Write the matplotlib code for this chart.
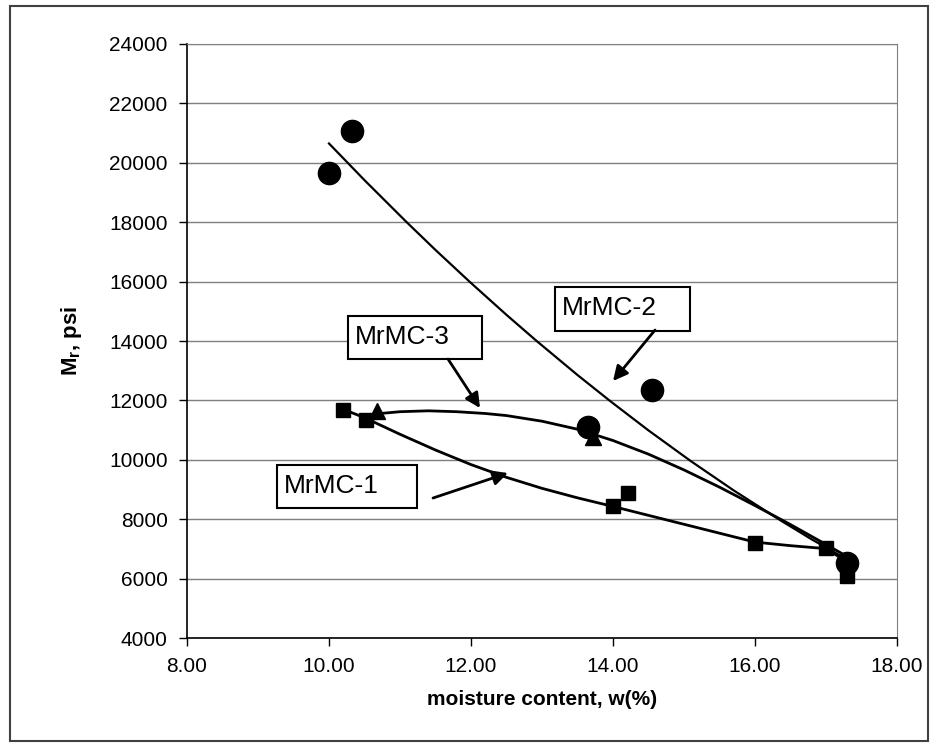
import matplotlib
matplotlib.use('Agg')
import matplotlib.pyplot as plt
from matplotlib.patches import Rectangle

plt.rcParams['font.family'] = ['Liberation Sans', 'DejaVu Sans']
plt.rcParams['mathtext.fontset'] = 'custom'
plt.rcParams['mathtext.rm'] = 'Liberation Sans'
plt.rcParams['mathtext.bf'] = 'Liberation Sans:bold'

# measured points (moisture %, Mr psi)
circle_x = [10.0, 10.33, 13.65, 14.55, 17.3]
circle_y = [19650, 21070, 11100, 12350, 6520]
square_x = [10.2, 10.52, 14.0, 14.21, 16.0, 17.0, 17.3]
square_y = [11680, 11340, 8450, 8890, 7210, 7020, 6100]
triangle_x = [10.68, 13.72]
triangle_y = [11650, 10760]

# trend curves
mc1_x = [10.2, 10.5, 11.0, 11.5, 12.0, 12.5, 13.0, 13.5, 14.0, 14.5, 15.0,
         15.5, 16.0, 16.5, 17.0, 17.3]
mc1_y = [11700, 11420, 10860, 10330, 9840, 9410, 9040, 8720, 8430, 8130,
         7830, 7530, 7230, 7110, 7010, 6560]
mc2_x = [10.0, 10.5, 11.09, 11.5, 11.99, 12.5, 12.93, 13.5, 13.97, 14.5,
         15.1, 15.7, 16.36, 16.8, 17.3]
mc2_y = [20650, 19415, 18010, 17065, 15975, 14880, 13990, 12855, 11960,
         10990, 9950, 8970, 7960, 7320, 6640]
mc3_x = [10.63, 11.0, 11.4, 11.8, 12.2, 12.5, 13.0, 13.5, 14.0, 14.5, 15.0,
         15.5, 16.0, 16.5, 17.0, 17.3]
mc3_y = [11540, 11620, 11650, 11620, 11560, 11490, 11300, 11030, 10650,
         10190, 9660, 9080, 8460, 7820, 7150, 6740]

x_ticks = [8, 10, 12, 14, 16, 18]
y_ticks = list(range(4000, 24001, 2000))

fig = plt.figure(figsize=(9.34, 7.48), dpi=100)
ax = fig.add_axes([0.2002, 0.147, 0.7602, 0.7942])

ax.set_xlim(8, 18)
ax.set_ylim(4000, 24000)
ax.set_xticks(x_ticks)
ax.set_xticklabels(['%.2f' % t for t in x_ticks])
ax.set_yticks(y_ticks)
ax.set_yticklabels([str(t) for t in y_ticks])
ax.tick_params(direction='out', length=6, width=1, labelsize=15, pad=8)
ax.yaxis.grid(True, color='#7f7f7f', lw=1)
ax.set_axisbelow(True)
ax.spines['right'].set_color('#808080')
ax.spines['top'].set_color('#808080')
ax.spines['left'].set_linewidth(1.2)
ax.spines['bottom'].set_linewidth(1.2)

ax.plot(mc1_x, mc1_y, color='black', lw=2, zorder=3)
ax.plot(mc2_x, mc2_y, color='black', lw=1.6, zorder=3)
ax.plot(mc3_x, mc3_y, color='black', lw=2, zorder=3)

ax.plot(circle_x, circle_y, 'o', color='black', ms=16, zorder=4)
ax.plot(square_x, square_y, 's', color='black', ms=10, zorder=4)
ax.plot(triangle_x, triangle_y, '^', color='black', ms=11, zorder=4)

# label boxes with arrows
boxes = [
    ('MrMC-3', 10.27, 13394, 1.885, 1448, 11.676, 13394, 12.127, 11744),
    ('MrMC-2', 13.183, 14337, 1.902, 1481, 14.592, 14370, 14.0, 12653),
    ('MrMC-1', 9.268, 8377, 1.971, 1448, 11.465, 8714, 12.52, 9556),
]
for name, bx, by, bw, bh, sx, sy, tx, ty in boxes:
    ax.add_patch(Rectangle((bx, by), bw, bh, facecolor='white',
                           edgecolor='black', lw=1.5, zorder=5))
    ax.text(bx + 0.1, by + bh * 0.52, name, fontsize=19, va='center',
            ha='left', zorder=6)
    ax.annotate('', xy=(tx, ty), xytext=(sx, sy),
                arrowprops=dict(arrowstyle='-|>', color='black', lw=2,
                                mutation_scale=22, shrinkA=0, shrinkB=0),
                zorder=6)

ax.set_xlabel('moisture content, w(%)', fontsize=15, fontweight='bold',
              labelpad=10)
ax.set_ylabel(r'$\mathbf{M_r}$, psi', fontsize=16, fontweight='bold',
              labelpad=18)

fig.patches.append(Rectangle((0.0107, 0.0094), 0.983, 0.9826,
                             transform=fig.transFigure, fill=False,
                             edgecolor='#404040', lw=1.5))

fig.savefig('out.png', dpi=100)
